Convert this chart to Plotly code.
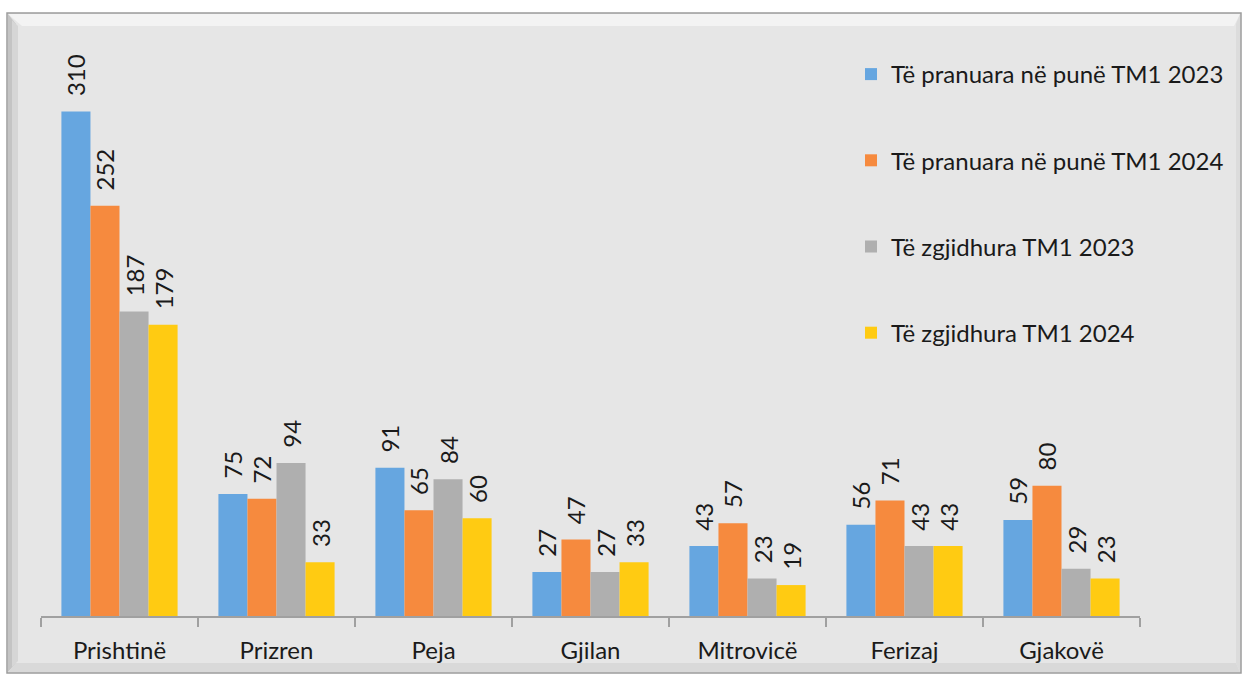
import plotly.graph_objects as go

# Regions (categories)
regions = ["Prishtinë", "Prizren", "Peja", "Gjilan", "Mitrovicë", "Ferizaj", "Gjakovë"]

# Series values per region
pranuara_2023 = [310, 75, 91, 27, 43, 56, 59]
pranuara_2024 = [252, 72, 65, 47, 57, 71, 80]
zgjidhura_2023 = [187, 94, 84, 27, 23, 43, 29]
zgjidhura_2024 = [179, 33, 60, 33, 19, 43, 23]

series_names = [
    "Të pranuara në punë TM1 2023",
    "Të pranuara në punë TM1 2024",
    "Të zgjidhura TM1 2023",
    "Të zgjidhura TM1 2024",
]
series_values = [pranuara_2023, pranuara_2024, zgjidhura_2023, zgjidhura_2024]
series_colors = ["#66A6E0", "#F68A3E", "#AFAFAF", "#FFCB12"]

FONT = "Lato, 'Open Sans', sans-serif"

fig = go.Figure()
for i, (name, vals, col) in enumerate(zip(series_names, series_values, series_colors)):
    fig.add_trace(go.Bar(
        x=regions,
        y=vals,
        name=name,
        legendgroup=f"g{i}",
        marker=dict(color=col, line=dict(width=0)),
        texttemplate="\u00a0\u00a0%{y}",
        textposition="outside",
        textangle=-90,
        constraintext="none",
        cliponaxis=False,
        textfont=dict(family=FONT, size=24, color="#1a1a1a"),
    ))

# Outer framed panel with a bevelled edge
W0, W1 = 1099.0, 586.0   # plot area width / height in px
L, T = 41.0, 30.0        # plot area left / top offsets in px


def px_x(px):
    return (px - L) / W0


def px_y(py):
    return (T + W1 - py) / W1


shapes = [
    # panel body
    dict(type="rect", xref="paper", yref="paper",
         x0=px_x(7), x1=px_x(1241), y0=px_y(673), y1=px_y(13),
         fillcolor="#E6E6E6", line=dict(color="#9C9C9C", width=1.5), layer="below"),
    # top highlight bevel
    dict(type="path", xref="paper", yref="paper",
         path=(f"M {px_x(8)},{px_y(14)} L {px_x(1240)},{px_y(14)} "
               f"L {px_x(1234)},{px_y(26)} L {px_x(22)},{px_y(26)} Z"),
         fillcolor="#F3F3F3", line=dict(width=0), layer="below"),
    # left shaded bevel
    dict(type="path", xref="paper", yref="paper",
         path=(f"M {px_x(8)},{px_y(14)} L {px_x(16)},{px_y(24)} "
               f"L {px_x(16)},{px_y(663)} L {px_x(8)},{px_y(672)} Z"),
         fillcolor="#C4C4C4", line=dict(width=0), layer="below"),
    dict(type="path", xref="paper", yref="paper",
         path=(f"M {px_x(12)},{px_y(20)} L {px_x(18)},{px_y(26)} "
               f"L {px_x(18)},{px_y(661)} L {px_x(12)},{px_y(667)} Z"),
         fillcolor="#D6D6D6", line=dict(width=0), layer="below"),
    # bottom shadow bevel
    dict(type="path", xref="paper", yref="paper",
         path=(f"M {px_x(16)},{px_y(663)} L {px_x(1236)},{px_y(663)} "
               f"L {px_x(1240)},{px_y(672)} L {px_x(8)},{px_y(672)} Z"),
         fillcolor="#D9D9D9", line=dict(width=0), layer="below"),
    # right thin bevel
    dict(type="path", xref="paper", yref="paper",
         path=(f"M {px_x(1236)},{px_y(24)} L {px_x(1240)},{px_y(14)} "
               f"L {px_x(1240)},{px_y(672)} L {px_x(1236)},{px_y(663)} Z"),
         fillcolor="#DCDCDC", line=dict(width=0), layer="below"),
]

fig.update_layout(
    width=1244,
    height=677,
    margin=dict(l=41, r=104, t=30, b=61),
    paper_bgcolor="white",
    plot_bgcolor="rgba(0,0,0,0)",
    barmode="group",
    bargap=0.26,
    bargroupgap=0,
    shapes=shapes,
    font=dict(family=FONT, size=24, color="#1a1a1a"),
    legend=dict(
        x=px_x(851), xanchor="left",
        y=px_y(52), yanchor="top",
        bgcolor="rgba(0,0,0,0)",
        font=dict(family=FONT, size=24, color="#1a1a1a"),
        traceorder="grouped",
        tracegroupgap=52,
        itemsizing="constant",
    ),
    xaxis=dict(
        showline=True, linecolor="#A0A0A0", linewidth=1.5,
        ticks="outside", tickson="boundaries", ticklen=9, tickcolor="#A0A0A0", tickwidth=1.5,
        ticklabelstandoff=12,
        tickfont=dict(family=FONT, size=24, color="#1a1a1a"),
        showgrid=False,
    ),
    yaxis=dict(
        range=[0, 360], visible=False, showgrid=False, zeroline=False,
    ),
)

fig.write_html("out.html")
